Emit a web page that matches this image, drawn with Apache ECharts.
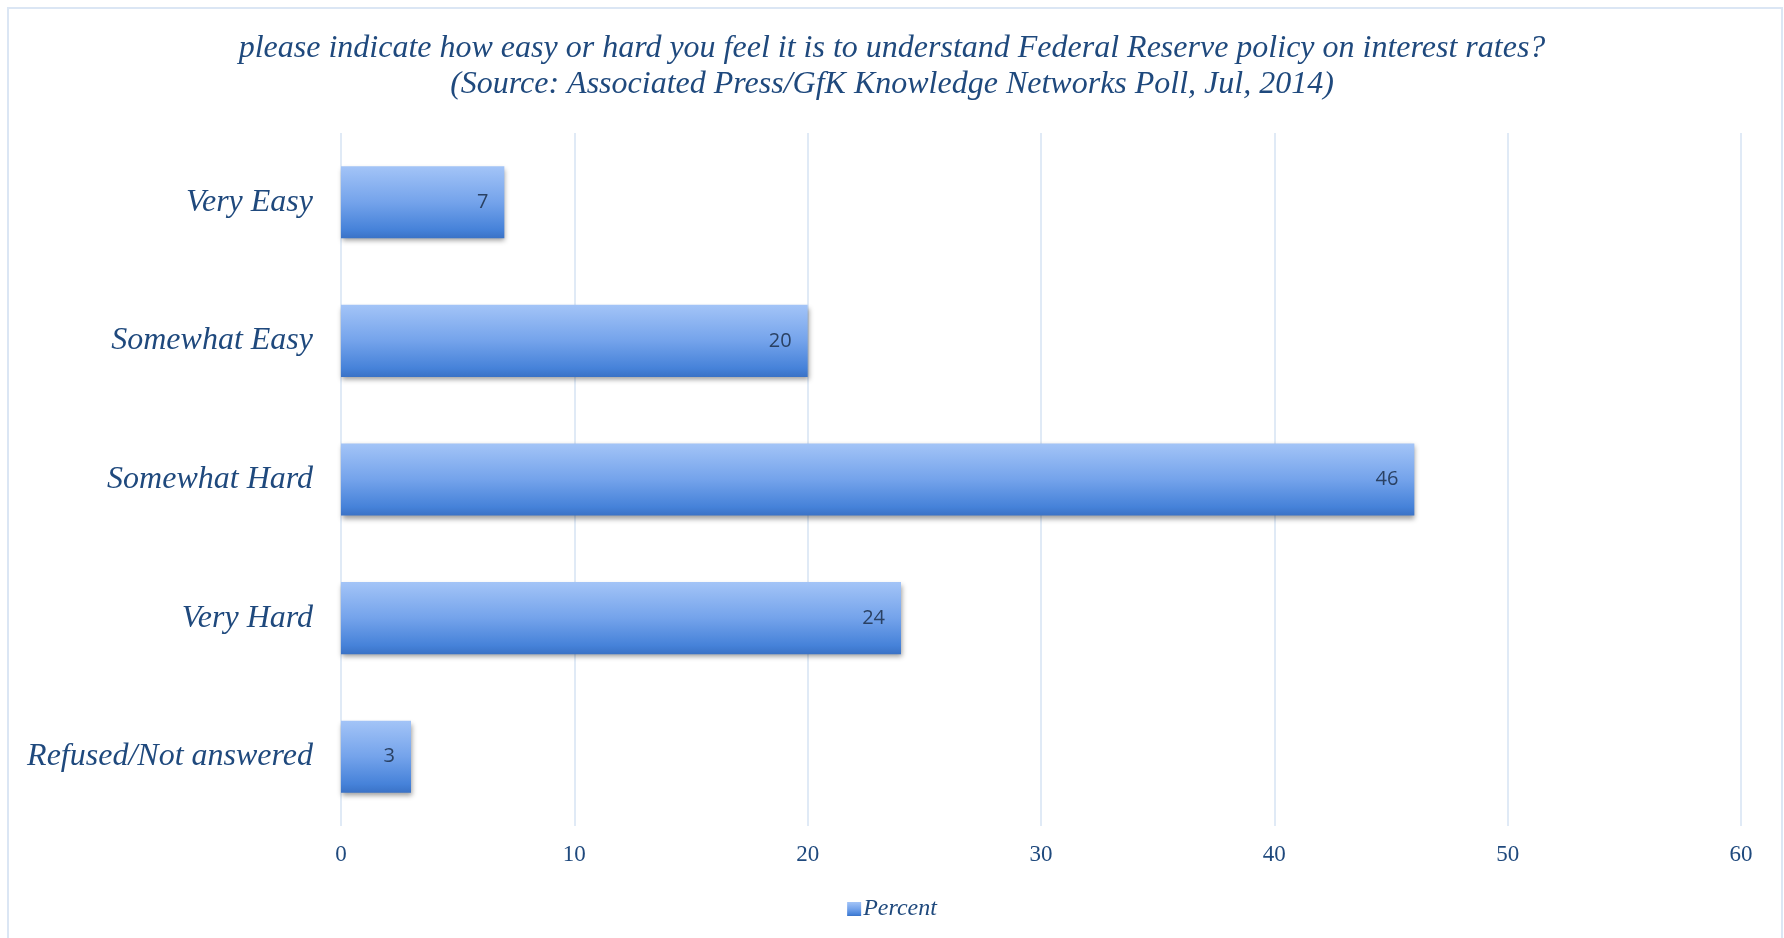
<!DOCTYPE html>
<html>
<head>
<meta charset="utf-8">
<script src="https://cdn.jsdelivr.net/npm/echarts@6/dist/echarts.min.js"></script>
<style>
  html, body { margin: 0; padding: 0; background: #ffffff; }
  #chart { width: 1784px; height: 938px; }
</style>
</head>
<body>
<div id="chart"></div>
<script>
// Survey answers, top to bottom as shown
const categories = ['Very Easy', 'Somewhat Easy', 'Somewhat Hard', 'Very Hard', 'Refused/Not answered'];
const percentValues = [7, 20, 46, 24, 3];
const seriesName = 'Percent';
const titleLines = [
  'please indicate how easy or hard you feel it is to understand Federal Reserve policy on interest rates?',
  '(Source: Associated Press/GfK Knowledge Networks Poll, Jul, 2014)'
];

const textBlue = '#1f497d';
const serif = '"Liberation Serif", "DejaVu Serif", serif';

const barFill = new echarts.graphic.LinearGradient(0, 0, 0, 1, [
  { offset: 0, color: '#a3c4f7' },
  { offset: 0.5, color: '#74a3eb' },
  { offset: 0.88, color: '#4682d9' },
  { offset: 1, color: '#3a72c6' }
]);

const chart = echarts.init(document.getElementById('chart'), null, { renderer: 'canvas' });

chart.setOption({
  backgroundColor: '#ffffff',
  animation: false,
  graphic: [{
    type: 'rect',
    shape: { x: 8, y: 8, width: 1774, height: 940 },
    style: { fill: 'none', stroke: '#dbe6f4', lineWidth: 2 },
    silent: true,
    z: -1
  }],
  title: {
    text: titleLines.join('\n'),
    left: 'center',
    top: 26,
    textStyle: {
      fontFamily: serif,
      fontStyle: 'italic',
      fontWeight: 'normal',
      fontSize: 32,
      lineHeight: 36,
      color: textBlue
    }
  },
  legend: {
    data: [seriesName],
    bottom: 12,
    left: 'center',
    icon: 'rect',
    itemWidth: 14,
    itemHeight: 14,
    itemGap: 4,
    textStyle: {
      fontFamily: serif,
      fontStyle: 'italic',
      fontSize: 24,
      color: textBlue,
      padding: [0, 0, 0, -3]
    }
  },
  grid: { left: 341, right: 43, top: 133, bottom: 112, containLabel: false },
  xAxis: {
    type: 'value',
    min: 0,
    max: 60,
    interval: 10,
    axisLine: { show: false },
    axisTick: { show: false },
    splitLine: { show: true, lineStyle: { color: '#d6e3f3', width: 1.5 } },
    axisLabel: {
      margin: 17,
      fontFamily: serif,
      fontSize: 23,
      color: textBlue
    }
  },
  yAxis: {
    type: 'category',
    data: categories,
    inverse: true,
    axisLine: { show: false },
    axisTick: { show: false },
    axisLabel: {
      margin: 28,
      fontFamily: serif,
      fontStyle: 'italic',
      fontSize: 32,
      color: textBlue
    }
  },
  series: [{
    name: seriesName,
    type: 'bar',
    data: percentValues,
    barCategoryGap: '48%',
    itemStyle: {
      color: barFill,
      shadowColor: 'rgba(0,0,0,0.38)',
      shadowBlur: 5,
      shadowOffsetX: 1,
      shadowOffsetY: 3
    },
    label: {
      show: true,
      position: 'insideRight',
      distance: 16,
      fontFamily: '"Open Sans", "Noto Sans", sans-serif',
      fontSize: 20,
      color: '#2a4163'
    }
  }]
});
</script>
</body>
</html>
